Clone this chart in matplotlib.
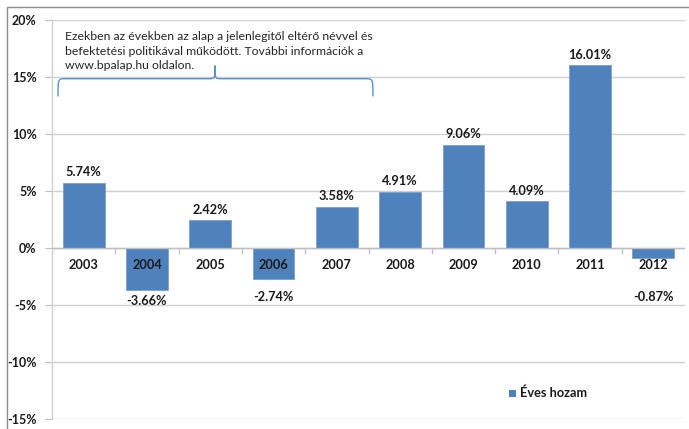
import matplotlib
matplotlib.use("Agg")
import matplotlib.pyplot as plt
from matplotlib.path import Path
from matplotlib.patches import PathPatch, Rectangle
import numpy as np

years = ["2003", "2004", "2005", "2006", "2007", "2008", "2009", "2010", "2011", "2012"]
returns = [5.74, -3.66, 2.42, -2.74, 3.58, 4.91, 9.06, 4.09, 16.01, -0.87]
yticks = [20, 15, 10, 5, 0, -5, -10, -15]
note = ("Ezekben az években az alap a jelenlegitől eltérő névvel és\n"
        "befektetési politikával működött. További információk a\n"
        "www.bpalap.hu oldalon.")
legend_label = "Éves hozam"

plt.rcParams['font.family'] = ['Lato', 'DejaVu Sans']
W, H = 689, 429
fig = plt.figure(figsize=(W / 100, H / 100), dpi=100)
ax = fig.add_axes([52 / W, 10 / H, (685 - 52) / W, (419 - 20) / H])

bar_color = "#4F81BD"
x = np.arange(len(years))
ax.bar(x, returns, width=0.66, color=bar_color, edgecolor="#7A9FCF", linewidth=0.6, zorder=3)

ax.set_xlim(-0.5, len(years) - 0.5)
ax.set_ylim(-15, 20)
ax.set_yticks(yticks)
ax.set_yticklabels([f"{v}%" for v in yticks], fontsize=9, fontweight="bold", color="#1a1a1a")
ax.tick_params(axis="y", length=5, color="#BFBFBF", pad=6)
ax.set_xticks([])
for v in yticks:
    ax.axhline(v, color="#D0D0D0", linewidth=1.0, zorder=1)
ax.axhline(0, color="#BFBFBF", linewidth=1.0, zorder=4)
for b in np.arange(0.5, len(years) - 0.5, 1.0):
    ax.plot([b, b], [0, -0.45], color="#BFBFBF", linewidth=1.0, zorder=4, clip_on=False)

for sp in ["top", "right", "bottom"]:
    ax.spines[sp].set_visible(False)
ax.spines["left"].set_color("#D0D0D0")
ax.spines["left"].set_linewidth(1.0)

for xi, (yr, v) in enumerate(zip(years, returns)):
    ax.text(xi, -1.5, yr, ha="center", va="center", fontsize=9.2, fontweight="bold", color="#1a1a1a", zorder=5)
    if v >= 0:
        ax.text(xi, v + 0.95, f"{v:.2f}%", ha="center", va="center", fontsize=9.2, fontweight="bold", color="#1a1a1a")
    else:
        ax.text(xi, min(v - 0.95, -4.3), f"{v:.2f}%", ha="center", va="center", fontsize=9.2, fontweight="bold", color="#1a1a1a")

# curly brace
xl, xr, xm = -0.405, 4.57, 2.075
yb, yh, yp = 13.3, 14.85, 16.0
verts = [(xl, yb), (xl, yh), (xl, yh), (xl + 0.12, yh),
         (xm - 0.1, yh), (xm, yh), (xm, yh), (xm, yp),
         (xm, yh), (xm, yh), (xm + 0.1, yh),
         (xr - 0.12, yh), (xr, yh), (xr, yh), (xr, yb)]
codes = [Path.MOVETO, Path.CURVE4, Path.CURVE4, Path.CURVE4,
         Path.LINETO, Path.CURVE4, Path.CURVE4, Path.CURVE4,
         Path.CURVE4, Path.CURVE4, Path.CURVE4,
         Path.LINETO, Path.CURVE4, Path.CURVE4, Path.CURVE4]
ax.add_patch(PathPatch(Path(verts, codes), facecolor="none", edgecolor="#5B8FD0", linewidth=1.0, zorder=5))

fig.text(65 / W, 1 - 31 / H, note, ha="left", va="top", fontsize=8.8, color="#262626", linespacing=1.4)

# legend
fig.patches.append(Rectangle((509 / W, 1 - 397 / H), 7 / W, 7 / H, transform=fig.transFigure,
                             facecolor=bar_color, edgecolor="none"))
fig.text(520 / W, 1 - 393 / H, legend_label, ha="left", va="center", fontsize=9.2, fontweight="bold", color="#1a1a1a")

# outer frame
fig.patches.append(Rectangle((7 / W, -0.1), 1.2, 1.1 - 7 / H, transform=fig.transFigure,
                             facecolor="none", edgecolor="#8C8C8C", linewidth=1.0))

fig.savefig("out.png", dpi=100, facecolor="white")
